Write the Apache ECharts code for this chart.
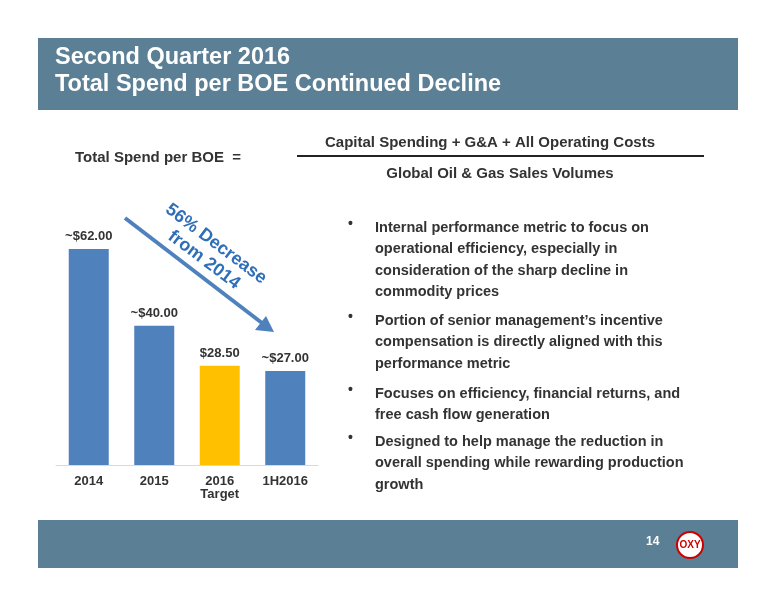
<!DOCTYPE html><html><head><meta charset="utf-8">
<script src="https://cdn.jsdelivr.net/npm/echarts@6/dist/echarts.min.js"></script>
<style>html,body{margin:0;padding:0;background:#fff}#c{width:776px;height:600px}</style></head><body><div id="c"></div>
<script>
const categories=['2014','2015','2016\nTarget','1H2016'];
const values=[62,40,28.5,27];
const labels=['~$62.00','~$40.00','$28.50','~$27.00'];
const colors=['#4f81bd','#4f81bd','#ffc000','#4f81bd'];
const bullets=[
'Internal performance metric to focus on\noperational efficiency, especially in\nconsideration of the sharp decline in\ncommodity prices',
'Portion of senior management\u2019s incentive\ncompensation is directly aligned with this\nperformance metric',
'Focuses on efficiency, financial returns, and\nfree cash flow generation',
'Designed to help manage the reduction in\noverall spending while rewarding production\ngrowth'];
const bulletY=[217,310,383,431];
const F='Liberation Sans, Arial, sans-serif';
const chart=echarts.init(document.getElementById('c'));
const g=[
 {type:'rect',shape:{x:38,y:38,width:700,height:72},style:{fill:'#5b7f95'},z:0},
 {type:'text',left:55,top:44,style:{text:'Second Quarter 2016\nTotal Spend per BOE Continued Decline',fill:'#fff',font:'bold 23.5px '+F,lineHeight:27}},
 {type:'rect',shape:{x:38,y:520,width:700,height:48},style:{fill:'#5b7f95'}},
 {type:'text',left:646,top:536,style:{text:'14',fill:'#fff',font:'bold 12px '+F}},
 {type:'circle',shape:{cx:690,cy:545,r:13},style:{fill:'#fff',stroke:'#c00',lineWidth:2}},
 {type:'text',x:690,y:545,style:{text:'OXY',fill:'#c00',font:'bold 10px '+F,align:'center',verticalAlign:'middle'}},
 {type:'text',left:75,top:150,style:{text:'Total Spend per BOE  =',fill:'#333',font:'bold 15px '+F}},
 {type:'text',x:490,y:143,style:{text:'Capital Spending + G&A + All Operating Costs',fill:'#333',font:'bold 15px '+F,align:'center',verticalAlign:'middle'}},
 {type:'line',shape:{x1:297,y1:156,x2:704,y2:156},style:{stroke:'#222',lineWidth:2}},
 {type:'text',x:500,y:174,style:{text:'Global Oil & Gas Sales Volumes',fill:'#333',font:'bold 15px '+F,align:'center',verticalAlign:'middle'}},
 {type:'line',shape:{x1:125,y1:218,x2:262,y2:323},style:{stroke:'#4f81bd',lineWidth:4}},
 {type:'polygon',shape:{points:[[274,332],[255,330],[266,316]]},style:{fill:'#4f81bd'}},
 {type:'text',x:210,y:252,rotation:-Math.PI*0.205,style:{text:'56% Decrease\nfrom 2014',fill:'#2f6fb8',font:'bold 18px '+F,align:'center',verticalAlign:'middle',lineHeight:20}}
];
bullets.forEach((b,i)=>{
 g.push({type:'text',left:348,top:bulletY[i],style:{text:'\u2022',fill:'#333',font:'bold 14px '+F}});
 g.push({type:'text',left:375,top:bulletY[i],style:{text:b,fill:'#333',font:'bold 14.5px '+F,lineHeight:21.5}});
});
chart.setOption({
 animation:false,
 graphic:g,
 grid:{left:56,top:200,width:262,bottom:135},
 xAxis:{type:'category',data:categories,axisTick:{show:false},axisLine:{lineStyle:{color:'#d9d9d9'}},axisLabel:{color:'#333',fontWeight:'bold',fontSize:13,fontFamily:F,margin:10}},
 yAxis:{type:'value',min:0,max:62/216*265,show:false,splitLine:{show:false}},
 series:[{type:'bar',barWidth:40,data:values.map((v,i)=>({value:v,itemStyle:{color:colors[i]},label:{formatter:labels[i]}})),
  label:{show:true,position:'top',color:'#333',fontWeight:'bold',fontSize:13,fontFamily:F,distance:6}}]
});
</script></body></html>
